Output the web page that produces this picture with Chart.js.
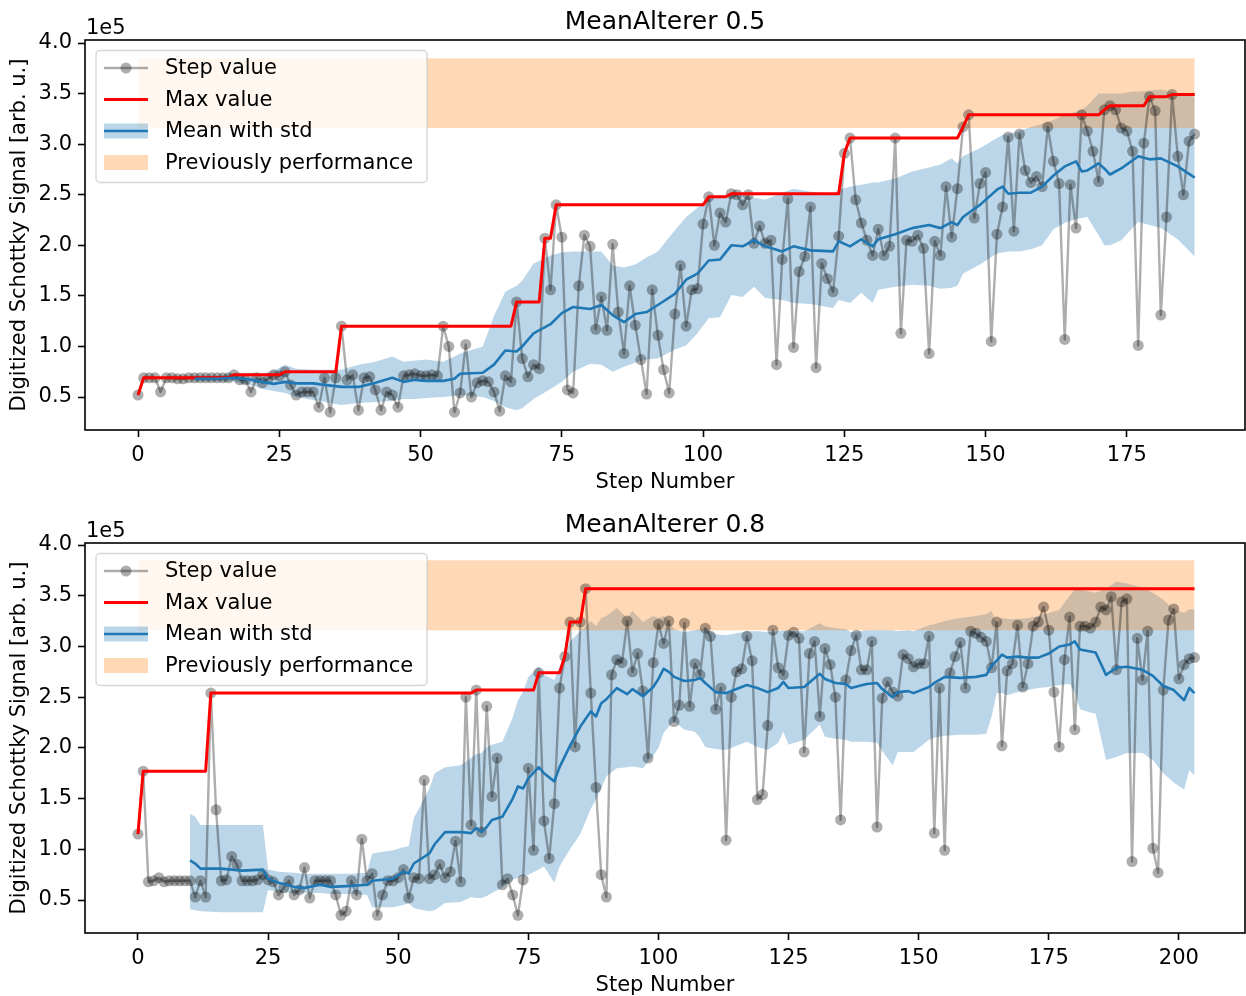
<!DOCTYPE html>
<html><head><meta charset="utf-8">
<script src="https://cdn.jsdelivr.net/npm/chart.js@4.4.1/dist/chart.umd.min.js"></script>
<style>
html,body{margin:0;padding:0;background:#fff;}
#wrap{position:relative;width:1246px;height:996px;overflow:hidden;background:#fff;}
.c{position:absolute;left:0;}
</style></head><body>
<div id="wrap">
<canvas id="c1" class="c" style="top:0px" width="1246" height="498"></canvas>
<canvas id="c2" class="c" style="top:503px" width="1246" height="496"></canvas>
</div>
<script>
// ---------- DATA (values in units of 1e5) ----------
const yTicks = [0.5,1.0,1.5,2.0,2.5,3.0,3.5,4.0];
const topXTicks = [0,25,50,75,100,125,150,175];
const botXTicks = [0,25,50,75,100,125,150,175,200];
const prevLow = 3.16;
const prevHigh = 3.85;

// MeanAlterer 0.5 : step values (step = index)
const topStep = [0.52,0.69,0.69,0.69,0.55,0.69,0.69,0.68,0.68,0.69,
 0.69,0.69,0.69,0.69,0.69,0.69,0.69,0.72,0.67,0.67,
 0.55,0.69,0.64,0.68,0.72,0.71,0.75,0.62,0.52,0.55,
 0.55,0.55,0.40,0.69,0.35,0.69,1.20,0.67,0.72,0.37,
 0.69,0.70,0.57,0.37,0.55,0.52,0.40,0.71,0.72,0.73,
 0.71,0.71,0.72,0.71,1.20,1.00,0.35,0.54,1.02,0.50,
 0.64,0.66,0.65,0.55,0.36,0.71,0.65,1.44,0.88,0.70,
 0.82,0.78,2.07,1.56,2.40,2.08,0.57,0.54,1.60,2.10,
 1.99,1.17,1.49,1.16,2.01,1.34,0.93,1.60,1.21,0.87,
 0.53,1.56,1.11,0.77,0.54,1.32,1.80,1.20,1.56,1.57,
 2.21,2.48,2.00,2.32,2.23,2.51,2.50,2.40,2.50,2.02,
 2.19,2.02,2.05,0.82,1.86,2.46,0.99,1.74,1.89,2.38,
 0.79,1.82,1.67,1.54,2.09,2.91,3.06,2.45,2.22,2.05,
 1.90,2.16,1.90,1.99,3.06,1.13,2.05,2.04,2.10,1.97,
 0.93,2.04,1.90,2.58,2.08,2.56,3.17,3.29,2.27,2.61,
 2.72,1.05,2.11,2.38,3.07,2.14,3.10,2.74,2.62,2.68,
 2.58,3.17,2.83,2.61,1.07,2.60,2.17,3.29,3.13,2.93,
 2.63,3.34,3.38,3.34,3.16,3.13,2.93,1.01,3.01,3.47,
 3.33,1.31,2.28,3.49,2.88,2.50,3.03,3.10];

// red "Max value" line vertices
const topMaxX = [0,1,16,17,25,26,35,36,66,67,71,72,73,74,100,101,104,105,124,125,126,145,146,147,170,171,172,178,179,182,183,187];
const topMaxY = [0.52,0.69,0.69,0.72,0.72,0.75,0.75,1.20,1.20,1.44,1.44,2.07,2.07,2.40,2.40,2.48,2.48,2.51,2.51,2.91,3.06,3.06,3.17,3.29,3.29,3.34,3.38,3.38,3.47,3.47,3.49,3.49];

// mean with std band
const topBandX = [10,14,17,20,22,24,26,28,31,33,36,39,42,45,47,49,51,54,56,57,61,63,65,67,68,70,73,75,77,80,82,84,86,88,90,92,95,97,99,101,103,105,107,109,111,114,116,119,123,124,126,128,130,131,134,137,140,142,144,145,146,149,152,153,154,156,158,160,162,164,166,167,168,170,171,172,174,176,177,179,181,184,187];
const topMean = [0.68,0.68,0.69,0.67,0.65,0.63,0.65,0.635,0.635,0.62,0.60,0.60,0.64,0.69,0.65,0.67,0.66,0.66,0.68,0.73,0.74,0.82,0.96,0.95,1.00,1.13,1.22,1.33,1.39,1.37,1.41,1.31,1.24,1.32,1.34,1.41,1.52,1.66,1.72,1.85,1.86,2.00,1.99,2.05,1.99,1.94,1.99,1.95,1.94,2.04,1.99,2.06,1.99,2.06,2.11,2.17,2.20,2.17,2.23,2.20,2.28,2.40,2.55,2.58,2.51,2.52,2.52,2.58,2.69,2.78,2.83,2.73,2.74,2.81,2.76,2.70,2.76,2.84,2.88,2.85,2.86,2.78,2.67];
const topLow = [0.66,0.66,0.65,0.62,0.58,0.56,0.54,0.50,0.47,0.45,0.42,0.44,0.45,0.46,0.48,0.48,0.49,0.50,0.51,0.52,0.50,0.46,0.40,0.37,0.39,0.48,0.58,0.65,0.75,0.83,0.82,0.75,0.80,0.84,0.87,0.88,0.97,1.01,1.13,1.28,1.29,1.51,1.49,1.59,1.48,1.46,1.43,1.42,1.38,1.46,1.43,1.53,1.43,1.56,1.59,1.61,1.60,1.57,1.58,1.60,1.72,1.81,1.92,1.93,1.94,1.94,1.96,2.00,2.16,2.22,2.26,2.27,2.28,2.10,2.00,2.00,2.05,2.17,2.23,2.20,2.17,2.06,1.89];
const topHigh = [0.70,0.70,0.74,0.74,0.73,0.76,0.82,0.78,0.77,0.77,0.77,0.82,0.85,0.90,0.85,0.86,0.87,0.85,0.90,0.93,1.00,1.30,1.54,1.60,1.65,1.82,1.90,1.93,1.94,1.94,1.94,1.80,1.78,1.81,1.88,1.94,2.15,2.28,2.37,2.48,2.49,2.50,2.50,2.47,2.45,2.52,2.56,2.53,2.51,2.55,2.58,2.60,2.62,2.62,2.66,2.73,2.77,2.80,2.86,2.81,2.88,2.96,3.06,3.09,3.10,3.13,3.17,3.20,3.24,3.29,3.32,3.34,3.38,3.50,3.50,3.50,3.50,3.52,3.52,3.53,3.54,3.50,3.47];

// MeanAlterer 0.8 : step values
const botStep = [1.15,1.77,0.68,0.69,0.72,0.68,0.69,0.69,0.69,0.69,
 0.69,0.53,0.69,0.53,2.54,1.39,0.69,0.70,0.93,0.85,
 0.69,0.69,0.69,0.70,0.75,0.70,0.68,0.55,0.62,0.69,
 0.55,0.60,0.82,0.52,0.69,0.69,0.69,0.69,0.55,0.35,
 0.39,0.69,0.55,1.10,0.69,0.76,0.35,0.55,0.69,0.69,
 0.72,0.80,0.52,0.72,0.71,1.68,0.71,0.75,0.85,0.72,
 0.78,1.08,0.68,2.50,1.24,2.57,1.17,2.41,1.52,1.90,
 0.65,0.71,0.55,0.35,0.70,1.80,0.99,2.74,1.28,0.91,
 1.45,2.59,2.90,3.24,2.01,3.24,3.57,2.54,1.61,0.75,
 0.53,2.72,2.87,2.84,3.25,2.75,2.93,2.56,1.90,2.84,
 3.22,3.03,3.25,2.26,2.42,3.23,2.41,2.83,2.72,3.18,
 3.10,2.38,2.59,1.09,2.50,2.75,2.78,3.10,2.86,1.49,
 1.54,2.22,3.16,2.79,2.72,3.11,3.14,3.08,1.96,2.93,
 3.05,2.31,2.98,2.82,2.50,1.29,2.67,2.96,3.11,2.77,
 2.77,3.05,1.22,2.49,2.65,2.55,2.51,2.92,2.88,2.80,
 2.83,2.83,3.10,1.16,2.59,0.99,2.74,2.90,3.04,2.59,
 3.15,3.13,3.09,3.05,2.79,3.24,2.02,2.76,2.83,3.21,
 2.60,2.83,3.20,3.24,3.39,3.16,2.55,2.01,2.87,3.29,
 2.18,3.20,3.20,3.18,3.24,3.39,3.36,3.49,2.77,3.44,
 3.47,0.88,3.08,2.67,3.15,1.01,0.77,2.57,3.26,3.37,
 2.68,2.82,2.88,2.89];

const botMaxX = [0,1,13,14,64,65,76,77,81,82,83,85,86,203];
const botMaxY = [1.15,1.77,1.77,2.54,2.54,2.57,2.57,2.74,2.74,2.90,3.24,3.24,3.57,3.57];

const botBandX = [10,11,12,16,20,24,25,27,30,32,35,37,41,44,45,49,51,52,53,56,57,59,62,64,65,66,67,68,70,72,73,74,75,77,78,80,81,83,85,87,88,89,90,92,94,95,97,99,100,101,102,103,105,107,108,109,111,113,115,117,119,121,123,124,125,128,131,132,134,136,137,140,142,143,145,146,148,149,152,153,155,158,161,163,164,165,166,167,169,171,173,175,177,179,180,181,183,184,186,188,190,193,195,197,199,201,202,203];
const botMean = [0.89,0.86,0.81,0.81,0.79,0.80,0.71,0.67,0.63,0.62,0.65,0.63,0.64,0.65,0.69,0.71,0.78,0.76,0.86,0.96,1.05,1.17,1.17,1.16,1.21,1.17,1.22,1.29,1.32,1.50,1.62,1.60,1.70,1.81,1.75,1.67,1.81,2.02,2.21,2.36,2.31,2.44,2.48,2.59,2.53,2.58,2.51,2.60,2.68,2.78,2.75,2.70,2.66,2.67,2.69,2.64,2.55,2.54,2.58,2.62,2.59,2.55,2.59,2.65,2.59,2.60,2.73,2.68,2.64,2.63,2.59,2.63,2.64,2.58,2.50,2.55,2.56,2.54,2.60,2.64,2.70,2.69,2.70,2.72,2.81,2.86,2.92,2.89,2.90,2.89,2.89,2.93,3.00,3.02,3.05,2.97,2.95,2.94,2.72,2.79,2.80,2.77,2.71,2.61,2.57,2.47,2.59,2.54];
const botLow = [0.41,0.40,0.39,0.38,0.38,0.38,0.60,0.58,0.57,0.57,0.57,0.56,0.56,0.55,0.43,0.43,0.45,0.47,0.42,0.39,0.40,0.47,0.48,0.53,0.52,0.52,0.54,0.57,0.62,0.70,0.72,0.74,0.75,0.80,0.83,0.67,0.83,1.00,1.15,1.40,1.49,1.60,1.72,1.80,1.81,1.82,1.80,1.92,2.00,2.15,2.21,2.26,2.18,2.16,2.10,2.01,1.99,1.98,2.02,2.06,2.01,1.98,2.05,2.16,2.03,2.08,2.23,2.11,2.09,2.08,2.06,2.06,2.05,1.97,1.83,1.96,1.96,1.96,2.08,2.10,2.12,2.13,2.13,2.14,2.31,2.54,2.54,2.52,2.55,2.57,2.59,2.60,2.62,2.63,2.55,2.38,2.35,2.34,1.88,1.91,1.95,1.95,1.88,1.75,1.66,1.59,1.78,1.73];
const botHigh = [1.35,1.32,1.24,1.24,1.24,1.24,0.80,0.78,0.77,0.76,0.76,0.76,0.76,0.77,0.96,0.99,1.02,1.03,1.31,1.60,1.75,1.81,1.83,1.90,1.94,1.95,2.01,2.03,2.06,2.30,2.47,2.55,2.70,2.80,2.72,2.67,2.80,3.05,3.15,3.25,3.20,3.28,3.30,3.38,3.28,3.35,3.24,3.30,3.28,3.30,3.26,3.17,3.14,3.16,3.17,3.18,3.12,3.11,3.13,3.15,3.15,3.14,3.15,3.16,3.15,3.15,3.23,3.20,3.18,3.17,3.14,3.16,3.16,3.16,3.16,3.15,3.16,3.15,3.21,3.22,3.25,3.28,3.30,3.32,3.35,3.23,3.28,3.27,3.27,3.28,3.30,3.33,3.36,3.50,3.56,3.56,3.54,3.53,3.57,3.64,3.62,3.58,3.53,3.46,3.37,3.33,3.37,3.36];

// ---------- STYLE ----------
const FONT = "'DejaVu Sans', sans-serif";
Chart.defaults.font.family = FONT;
Chart.defaults.color = '#000';
const STEP_COL = 'rgba(0,0,0,0.32)';
const BLUE = '#1f77b4';
const BLUE_FILL = 'rgba(31,119,180,0.3)';
const ORANGE_FILL = 'rgba(255,127,14,0.3)';
const NONE = 'rgba(0,0,0,0)';

function pts(xs, ys){ return xs.map((x,i)=>({x:x, y:ys[i]})); }
function idxPts(ys){ return ys.map((y,i)=>({x:i, y:y})); }

const decor = {
  id: 'decor',
  afterDatasetsDraw(chart){
    const {ctx, chartArea:a} = chart;
    ctx.save();
    ctx.strokeStyle = '#000';
    ctx.lineWidth = 1.6;
    ctx.strokeRect(a.left, a.top, a.right - a.left, a.bottom - a.top);
    ctx.restore();
  },
  afterDraw(chart, args, opts){
    const {ctx, chartArea:a} = chart;
    ctx.save();
    ctx.fillStyle = '#000';
    ctx.font = '25px ' + FONT;
    ctx.textAlign = 'center';
    ctx.textBaseline = 'alphabetic';
    ctx.fillText(opts.title, (a.left + a.right)/2, 29);
    ctx.font = '21px ' + FONT;
    ctx.textAlign = 'left';
    ctx.fillText('1e5', a.left + 1, 34);
    // legend
    const bx = 96, by = 50.5, bw = 331, bh = 132, r = 4;
    ctx.beginPath();
    ctx.moveTo(bx + r, by);
    ctx.lineTo(bx + bw - r, by); ctx.arcTo(bx + bw, by, bx + bw, by + r, r);
    ctx.lineTo(bx + bw, by + bh - r); ctx.arcTo(bx + bw, by + bh, bx + bw - r, by + bh, r);
    ctx.lineTo(bx + r, by + bh); ctx.arcTo(bx, by + bh, bx, by + bh - r, r);
    ctx.lineTo(bx, by + r); ctx.arcTo(bx, by, bx + r, by, r);
    ctx.closePath();
    ctx.fillStyle = 'rgba(255,255,255,0.8)';
    ctx.fill();
    ctx.strokeStyle = 'rgba(204,204,204,0.8)';
    ctx.lineWidth = 1.4;
    ctx.stroke();
    const hx0 = 104, hx1 = 148, tx = 165;
    const rows = [68, 99.5, 131, 162.5];
    ctx.strokeStyle = STEP_COL; ctx.lineWidth = 2.4;
    ctx.beginPath(); ctx.moveTo(hx0, rows[0]); ctx.lineTo(hx1, rows[0]); ctx.stroke();
    ctx.fillStyle = STEP_COL;
    ctx.beginPath(); ctx.arc((hx0 + hx1)/2, rows[0], 5.5, 0, Math.PI*2); ctx.fill();
    ctx.strokeStyle = '#ff0000'; ctx.lineWidth = 3;
    ctx.beginPath(); ctx.moveTo(hx0, rows[1]); ctx.lineTo(hx1, rows[1]); ctx.stroke();
    ctx.fillStyle = BLUE_FILL;
    ctx.fillRect(hx0, rows[2] - 7.5, hx1 - hx0, 15);
    ctx.strokeStyle = BLUE; ctx.lineWidth = 2.6;
    ctx.beginPath(); ctx.moveTo(hx0, rows[2]); ctx.lineTo(hx1, rows[2]); ctx.stroke();
    ctx.fillStyle = ORANGE_FILL;
    ctx.fillRect(hx0, rows[3] - 7.5, hx1 - hx0, 15);
    ctx.fillStyle = '#000';
    ctx.font = '21px ' + FONT;
    ctx.textAlign = 'left';
    ctx.textBaseline = 'middle';
    const labels = ['Step value', 'Max value', 'Mean with std', 'Previously performance'];
    labels.forEach((t, i) => ctx.fillText(t, tx, rows[i] + 1));
    ctx.restore();
  }
};

function build(id, c){
  const H = c.height;
  const n = c.steps.length;
  const tickGrid = {display:true, drawOnChartArea:false, drawTicks:true, tickLength:7, tickWidth:1.6, tickColor:'#000'};
  return new Chart(document.getElementById(id), {
    type: 'line',
    data: { datasets: [
      {data: pts([0, n-1], [prevLow, prevLow]), borderColor:NONE, borderWidth:0, pointRadius:0, fill:false, order:9},
      {data: pts([0, n-1], [prevHigh, prevHigh]), borderColor:NONE, borderWidth:0, pointRadius:0, fill:'-1', backgroundColor:ORANGE_FILL, order:9},
      {data: pts(c.bandX, c.low), borderColor:NONE, borderWidth:0, pointRadius:0, fill:false, order:10},
      {data: pts(c.bandX, c.high), borderColor:NONE, borderWidth:0, pointRadius:0, fill:'-1', backgroundColor:BLUE_FILL, order:10},
      {data: idxPts(c.steps), borderColor:STEP_COL, borderWidth:2.4, pointRadius:5.5, pointHoverRadius:5.5,
       pointBackgroundColor:STEP_COL, pointBorderWidth:0, fill:false, order:3},
      {data: pts(c.maxX, c.maxY), borderColor:'#ff0000', borderWidth:3, pointRadius:0, fill:false, order:2},
      {data: pts(c.bandX, c.mean), borderColor:BLUE, borderWidth:2.6, pointRadius:0, fill:false, order:1}
    ]},
    options: {
      responsive:false, animation:false, devicePixelRatio:1,
      events: [],
      elements: { line: { tension:0, borderCapStyle:'butt', borderJoinStyle:'round' } },
      layout: { autoPadding:false, padding: {top:40, right:1, left:0, bottom:0} },
      plugins: { legend:{display:false}, tooltip:{enabled:false}, title:{display:false}, decor:{title:c.title} },
      scales: {
        x: {
          type:'linear', min:c.xmin, max:c.xmax,
          afterBuildTicks: s => { s.ticks = c.xTicks.map(v => ({value:v})); },
          afterFit: s => { s.height = H - 430; },
          ticks: {font:{size:21, family:FONT}, color:'#000', maxRotation:0, autoSkip:false, padding:6, callback: v => String(v)},
          grid: tickGrid, border:{display:false},
          title: {display:true, text:'Step Number', font:{size:21, family:FONT}, color:'#000', padding:{top:0, bottom:c.xTitlePad}}
        },
        y: {
          type:'linear', min:c.ymin, max:c.ymax,
          afterBuildTicks: s => { s.ticks = yTicks.map(v => ({value:v})); },
          afterFit: s => { s.width = 85; },
          ticks: {font:{size:21, family:FONT}, color:'#000', padding:6, callback: v => Number(v).toFixed(1)},
          grid: tickGrid, border:{display:false},
          title: {display:true, text:'Digitized Schottky Signal [arb. u.]', font:{size:21, family:FONT}, color:'#000', padding:{top:7, bottom:0}}
        }
      }
    },
    plugins: [decor]
  });
}

build('c1', {title:'MeanAlterer 0.5', height:498, steps:topStep, maxX:topMaxX, maxY:topMaxY,
  bandX:topBandX, mean:topMean, low:topLow, high:topHigh, xTicks:topXTicks,
  xmin:-9.38, xmax:195.9, ymin:0.174, ymax:4.03, xTitlePad:2.4});
build('c2', {title:'MeanAlterer 0.8', height:496, steps:botStep, maxX:botMaxX, maxY:botMaxY,
  bandX:botBandX, mean:botMean, low:botLow, high:botHigh, xTicks:botXTicks,
  xmin:-10.18, xmax:212.7, ymin:0.175, ymax:4.02, xTitlePad:0.4});
</script>
</body></html>
